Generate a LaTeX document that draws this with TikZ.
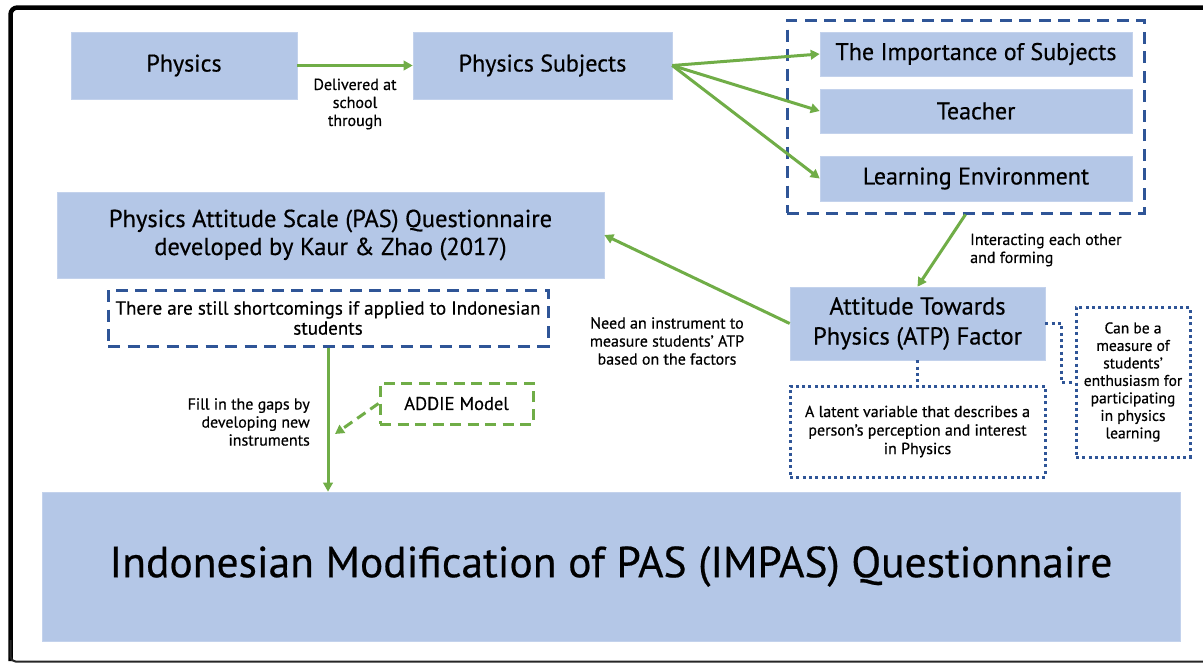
\documentclass[tikz,border=0pt]{standalone}
\usepackage{fontspec}
\setmainfont[FakeBold=0.5]{PT Sans}
\usetikzlibrary{arrows.meta,calc}
\definecolor{boxfill}{HTML}{B4C7E7}
\definecolor{grn}{HTML}{70AD47}
\definecolor{dblue}{HTML}{2F5597}
\begin{document}
\begin{tikzpicture}[x=1pt,y=-1pt,
  fs/.style 2 args={font=\fontsize{#1}{#2}\selectfont},
  box/.style={fill=boxfill, draw=boxfill!80!white, line width=0.6pt, inner sep=0pt, align=center},
  dashbox/.style={draw=dblue, line width=3pt, dash pattern=on 12pt off 7.5pt, inner sep=0pt, align=center},
  dotbox/.style={draw=dblue, line width=3pt, dash pattern=on 3pt off 3.3pt, inner sep=0pt, align=center},
  gdashbox/.style={draw=grn, line width=3pt, dash pattern=on 11pt off 6.5pt, inner sep=0pt, align=center},
  arr/.style={draw=grn, line width=3pt, -{Triangle[length=9pt,width=9.5pt]}},
  garr/.style={draw=grn, line width=3pt, dash pattern=on 10pt off 6pt, -{Triangle[length=9pt,width=9.5pt]}},
  dotline/.style={draw=dblue, line width=3pt, dash pattern=on 3pt off 3.3pt},
  lbl/.style={inner sep=0pt, fs={16}{18}}
]
\useasboundingbox (0,0) rectangle (1203,664);
% outer frame
\draw[line width=4.5pt, rounded corners=7pt] (1203,7.5) -- (10.5,7.5) -- (10.5,661);
\draw[line width=2pt, draw=black!85, rounded corners=5pt] (10.5,640) -- (10.5,661.5) -- (1203,661.5);

% top row
\node[box, fs={24}{29}, minimum width=226pt, minimum height=67pt] (phys) at (184,65.5) {Physics};
\node[box, fs={24}{29}, minimum width=259pt, minimum height=67pt] (subj) at (542.5,65.5) {Physics Subjects};

\node[dashbox, minimum width=357pt, minimum height=193pt] (grp) at (965.5,116.5) {};
\node[box, fs={24}{29}, minimum width=312pt, minimum height=44pt] (imp) at (976,54) {The Importance of Subjects};
\node[box, fs={24}{29}, minimum width=312pt, minimum height=44pt] (teach) at (976,111) {Teacher};
\node[box, fs={24}{29}, minimum width=312pt, minimum height=45pt] (learn) at (976,178.5) {Learning Environment};

% middle
\node[box, fs={24.5}{28}, minimum width=547pt, minimum height=86pt] (pas) at (330.5,235) {Physics Attitude Scale (PAS) Questionnaire\\developed by Kaur \& Zhao (2017)};
\node[dashbox, fs={19}{20}, minimum width=440pt, minimum height=56pt] (short) at (328,318) {There are still shortcomings if applied to Indonesian\\students};

\node[box, fs={24.5}{30}, minimum width=255pt, minimum height=73pt] (atp) at (917.5,323.5) {Attitude Towards\\Physics (ATP) Factor};
\node[dotbox, fs={16}{18.5}, minimum width=255pt, minimum height=91pt] (latent) at (917.5,431.5) {A latent variable that describes a\\person's perception and interest\\in Physics};
\node[dotbox, fs={15.5}{17.5}, minimum width=114pt, minimum height=150pt] (canbe) at (1133,382) {Can be a\\measure of\\students'\\enthusiasm for\\participating\\in physics\\learning};

\node[gdashbox, fs={18.5}{20}, minimum width=153pt, minimum height=41pt] (addie) at (456.5,403.5) {ADDIE Model};

% bottom
\node[box, fs={43.5}{50}, minimum width=1138pt, minimum height=149pt] (impas) at (611,566.5) {Indonesian Modification of PAS (IMPAS) Questionnaire};

% connectors
\draw[arr] (phys.east) -- (subj.west);
\draw[arr] (subj.east) -- (imp.west);
\draw[arr] (subj.east) -- (teach.west);
\draw[arr] (subj.east) -- (learn.west);
\draw[arr] (grp.south) -- (atp.north);
\draw[arr] (atp.west) -- (pas.east);
\draw[arr] (short.south) -- (short.south |- impas.north);
\coordinate (addietip) at (335,434);
\draw[garr] (addie.west) -- (addietip);
\draw[dotline] (atp.south) -- (latent.north);
\draw[dotline] (atp.east) -- ++(16,0) |- (canbe.west);

% labels
\node[lbl, align=center] (l1) at (355,104) {Delivered at\\school\\through};
\node[lbl, align=left, anchor=west] (l2) at (970,250) {Interacting each other\\and forming};
\node[lbl, align=center] (l3) at (667,341) {Need an instrument to\\measure students' ATP\\based on the factors};
\node[lbl, align=right, anchor=east] (l4) at (310,422) {Fill in the gaps by\\developing new\\instruments};
\end{tikzpicture}
\end{document}
